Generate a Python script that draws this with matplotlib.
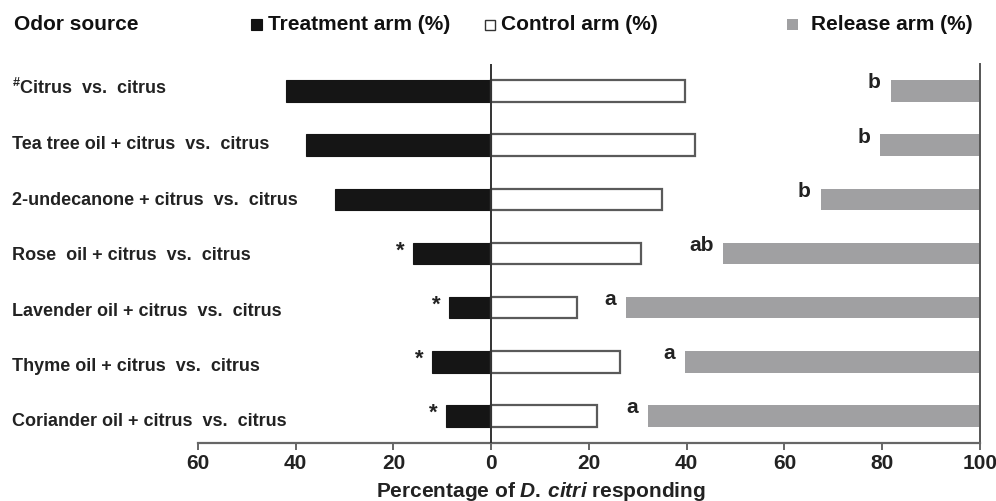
import matplotlib
matplotlib.use("Agg")
import matplotlib.pyplot as plt
from matplotlib.patches import Rectangle

SANS = ['Liberation Sans', 'DejaVu Sans']
plt.rcParams['font.family'] = SANS
plt.rcParams['mathtext.fontset'] = 'custom'
plt.rcParams['mathtext.it'] = 'Liberation Sans:bold:italic'
plt.rcParams['mathtext.rm'] = 'Liberation Sans:bold'
plt.rcParams['mathtext.bf'] = 'Liberation Sans:bold'

categories = [
    "$^{\\#}$Citrus  vs.  citrus",
    "Tea tree oil + citrus  vs.  citrus",
    "2-undecanone + citrus  vs.  citrus",
    "Rose  oil + citrus  vs.  citrus",
    "Lavender oil + citrus  vs.  citrus",
    "Thyme oil + citrus  vs.  citrus",
    "Coriander oil + citrus  vs.  citrus",
]
treatment = [42.0, 38.0, 32.0, 16.0, 8.7, 12.2, 9.3]
control = [39.7, 41.6, 35.0, 30.7, 17.5, 26.4, 21.7]
release = [18.3, 20.4, 32.6, 52.5, 72.5, 60.4, 67.9]
release_letters = ["b", "b", "b", "ab", "a", "a", "a"]
treatment_sig = [False, False, False, True, True, True, True]
tick_values = [-60, -40, -20, 0, 20, 40, 60, 80, 100]
tick_labels = ["60", "40", "20", "0", "20", "40", "60", "80", "100"]

fig = plt.figure(figsize=(9.96, 5.02), dpi=100)
ax = fig.add_axes([0.1988, 0.1155, 0.9839 - 0.1988, 0.8705 - 0.1155])

y = list(range(len(categories)))
h = 0.4
ax.barh(y, [-t for t in treatment], height=h, color='#151515', edgecolor='#151515', linewidth=0.8, zorder=2)
ax.barh(y, control, height=h, color='white', edgecolor='#5a5a5a', linewidth=1.6, zorder=2)
ax.barh(y, release, left=[100 - r for r in release], height=h, color='#a0a0a2', edgecolor='none', zorder=2)

for i in y:
    ax.text(100 - release[i] - 2.0, i - 0.17, release_letters[i], ha='right', va='center',
            fontsize=15, fontweight='bold', color='#222222', family=SANS)
    if treatment_sig[i]:
        ax.text(-treatment[i] - 2.6, i - 0.06, "*", ha='center', va='center',
                fontsize=16, fontweight='bold', color='#222222', family=SANS)

ax.axvline(0, color='#333333', linewidth=1.4, zorder=3)
ax.set_xlim(-60, 100)
ax.set_ylim(6.5, -0.5)
ax.set_xticks(tick_values)
ax.set_xticklabels(tick_labels, fontsize=15, fontweight='bold', color='#222222')
ax.tick_params(axis='x', direction='out', length=5, width=1.4, color='#666666', pad=2)
ax.set_yticks([])
for s in ['top', 'left']:
    ax.spines[s].set_visible(False)
ax.spines['bottom'].set_color('#666666')
ax.spines['bottom'].set_linewidth(1.6)
ax.spines['right'].set_color('#555555')
ax.spines['right'].set_linewidth(1.4)

# x-axis label
fig.text(0.5428, 1 - 492 / 502, "Percentage of $\\mathit{D.\\,citri}$ responding", ha='center', va='center',
         fontsize=15, fontweight='bold', color='#222222')

# category labels
for i, c in enumerate(categories):
    fig.text(12 / 996, 1 - (94 + i * 55.4) / 502, c, ha='left', va='baseline', fontsize=13,
             fontweight='bold', color='#222222', family=SANS)

# header
hy = 1 - 25 / 502
fig.text(14 / 996, hy, "Odor source", ha='left', va='center', fontsize=15,
         fontweight='bold', color='#111111')
fig.patches.append(Rectangle((251 / 996, 1 - 31 / 502), 11 / 996, 11 / 502, transform=fig.transFigure,
                             facecolor='#111111', edgecolor='#111111', lw=0.8))
fig.text(268 / 996, hy, "Treatment arm (%)", ha='left', va='center', fontsize=15,
         fontweight='bold', color='#111111')
fig.patches.append(Rectangle((485 / 996, 1 - 31 / 502), 10 / 996, 10 / 502, transform=fig.transFigure,
                             facecolor='white', edgecolor='#333333', lw=1.0))
fig.text(501 / 996, hy, "Control arm (%)", ha='left', va='center', fontsize=15,
         fontweight='bold', color='#111111')
fig.patches.append(Rectangle((787 / 996, 1 - 31 / 502), 11 / 996, 11 / 502, transform=fig.transFigure,
                             facecolor='#a0a0a2', edgecolor='none'))
fig.text(811 / 996, hy, "Release arm (%)", ha='left', va='center', fontsize=15,
         fontweight='bold', color='#111111')

fig.savefig("out.png", dpi=100)
